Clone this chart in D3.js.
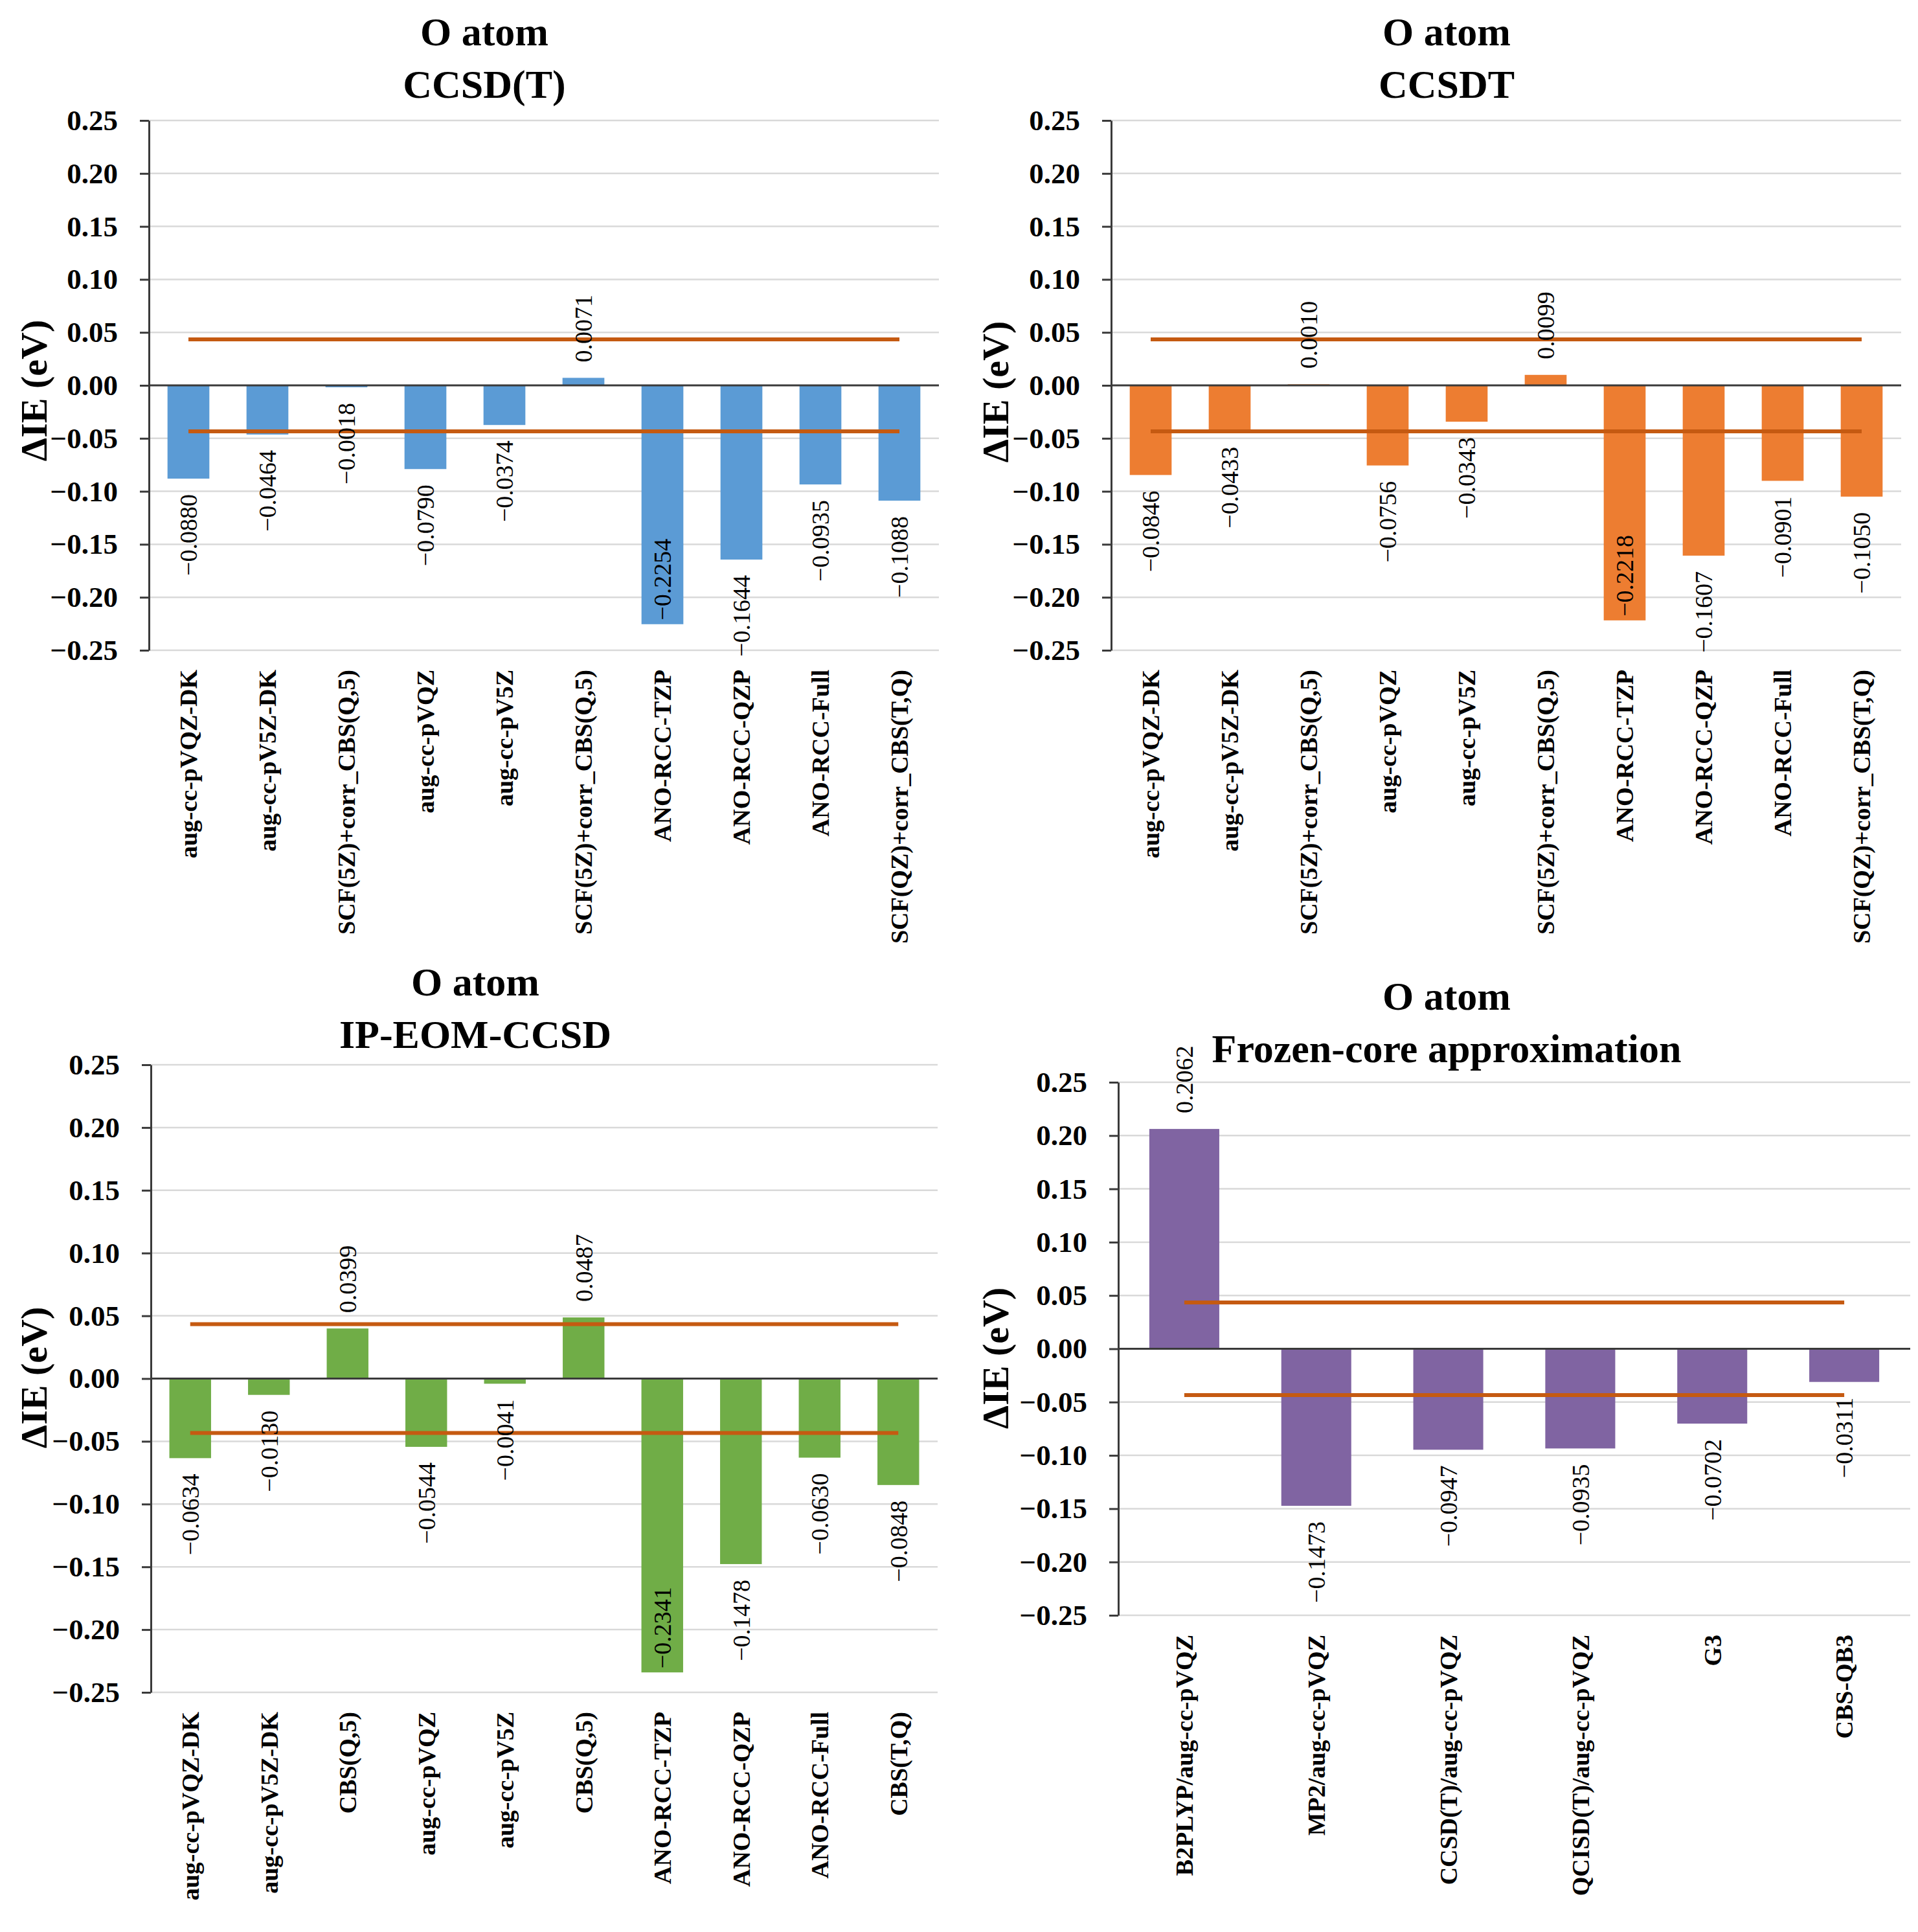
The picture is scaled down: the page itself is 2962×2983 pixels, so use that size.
<!DOCTYPE html>
<html>
<head>
<meta charset="utf-8">
<script src="https://cdn.jsdelivr.net/npm/d3@7"></script>
<style>
  body { margin: 0; background: #fff; }
  text { font-family: "Liberation Serif", "DejaVu Serif", serif; }
</style>
</head>
<body>
<div id="chart"></div>
<script>
// categories
let basisCC = ["aug-cc-pVQZ-DK", "aug-cc-pV5Z-DK", "SCF(5Z)+corr_CBS(Q,5)", "aug-cc-pVQZ", "aug-cc-pV5Z",
    "SCF(5Z)+corr_CBS(Q,5)", "ANO-RCC-TZP", "ANO-RCC-QZP", "ANO-RCC-Full", "SCF(QZ)+corr_CBS(T,Q)"];
let basisEOM = ["aug-cc-pVQZ-DK", "aug-cc-pV5Z-DK", "CBS(Q,5)", "aug-cc-pVQZ", "aug-cc-pV5Z",
    "CBS(Q,5)", "ANO-RCC-TZP", "ANO-RCC-QZP", "ANO-RCC-Full", "CBS(T,Q)"];
let methodsFC = ["B2PLYP/aug-cc-pVQZ", "MP2/aug-cc-pVQZ", "CCSD(T)/aug-cc-pVQZ", "QCISD(T)/aug-cc-pVQZ", "G3", "CBS-QB3"];

// series values (eV)
let ccsdT = [-0.0880, -0.0464, -0.0018, -0.0790, -0.0374, 0.0071, -0.2254, -0.1644, -0.0935, -0.1088];
let ccsdt = [-0.0846, -0.0433, 0.0010, -0.0756, -0.0343, 0.0099, -0.2218, -0.1607, -0.0901, -0.1050];
let ipEom = [-0.0634, -0.0130, 0.0399, -0.0544, -0.0041, 0.0487, -0.2341, -0.1478, -0.0630, -0.0848];
let frozenCore = [0.2062, -0.1473, -0.0947, -0.0935, -0.0702, -0.0311];

// chemical accuracy limits (+/- 1 kcal/mol)
let accuracyLimits = [0.0434, -0.0434];

// tick labels
let yTicks = [0.25, 0.20, 0.15, 0.10, 0.05, 0.00, -0.05, -0.10, -0.15, -0.20, -0.25];

let W = 2962, H = 2983;

let svg = d3.select("#chart").append("svg")
    .attr("width", W)
    .attr("height", H);

let panels = [
    {title: ["O atom", "CCSD(T)"], cats: basisCC, vals: ccsdT, color: "#5B9BD5",
     left: 230, right: 1450, top: 186, bottom: 1004, tx: 748, ty: [70, 151], lx: 52, ly: 603},
    {title: ["O atom", "CCSDT"], cats: basisCC, vals: ccsdt, color: "#ED7D31",
     left: 1716, right: 2936, top: 186, bottom: 1004, tx: 2234, ty: [70, 151], lx: 1537, ly: 605},
    {title: ["O atom", "IP-EOM-CCSD"], cats: basisEOM, vals: ipEom, color: "#70AD47",
     left: 233, right: 1448, top: 1644, bottom: 2613, tx: 734, ty: [1537, 1618], lx: 52, ly: 2127},
    {title: ["O atom", "Frozen-core approximation"], cats: methodsFC, vals: frozenCore, color: "#8064A2",
     left: 1727, right: 2950, top: 1671, bottom: 2494, tx: 2234, ty: [1559, 1640], lx: 1537, ly: 2097}
];

let fmtTick = d3.format(".2f");
let fmtVal = d3.format(".4f");

panels.forEach(p => {
    let g = svg.append("g");

    let x = d3.scaleBand()
        .domain(p.cats.map((c, i) => i))
        .range([p.left, p.right])
        .paddingInner(0.47)
        .paddingOuter(0.235);

    let y = d3.scaleLinear()
        .domain([-0.25, 0.25])
        .range([p.bottom, p.top]);

    // gridlines
    g.selectAll(".grid")
        .data(yTicks.filter(t => Math.abs(t) > 1e-9))
        .join("line")
        .attr("x1", p.left)
        .attr("x2", p.right)
        .attr("y1", d => y(d))
        .attr("y2", d => y(d))
        .attr("stroke", "#D9D9D9")
        .attr("stroke-width", 2.5);

    // bars
    g.selectAll(".bar")
        .data(p.vals)
        .join("rect")
        .attr("x", (d, i) => x(i))
        .attr("width", x.bandwidth())
        .attr("y", d => y(Math.max(0, d)))
        .attr("height", d => Math.abs(y(d) - y(0)))
        .attr("fill", p.color);

    // zero line (category axis)
    g.append("line")
        .attr("x1", p.left)
        .attr("x2", p.right)
        .attr("y1", y(0))
        .attr("y2", y(0))
        .attr("stroke", "#3a3a3a")
        .attr("stroke-width", 3);

    // accuracy lines
    let line = d3.line()
        .x(d => d.x)
        .y(d => d.y);
    accuracyLimits.forEach(v => {
        let pts = [0, p.cats.length - 1].map(i => ({x: x(i) + x.bandwidth() / 2, y: y(v)}));
        g.append("path")
            .attr("d", line(pts))
            .attr("fill", "none")
            .attr("stroke", "#C55A11")
            .attr("stroke-width", 6);
    });

    // y axis
    let yAxis = d3.axisLeft(y)
        .tickValues(yTicks)
        .tickFormat(fmtTick)
        .tickSizeInner(14)
        .tickSizeOuter(0)
        .tickPadding(34);
    let ax = g.append("g")
        .attr("transform", `translate(${p.left},0)`)
        .call(yAxis);
    ax.select(".domain").attr("stroke", "#3a3a3a").attr("stroke-width", 3);
    ax.selectAll(".tick line").attr("stroke", "#3a3a3a").attr("stroke-width", 3);
    ax.selectAll(".tick text")
        .attr("fill", "#000")
        .style("font-family", "'Liberation Serif', serif")
        .style("font-size", "45px")
        .style("font-weight", "bold");

    // data labels
    let gap = 24;
    g.selectAll(".vlabel")
        .data(p.vals)
        .join("text")
        .attr("class", "vlabel")
        .attr("dy", "0.35em")
        .style("font-size", "38px")
        .attr("fill", "#000")
        .text(d => fmtVal(d))
        .each(function(d, i) {
            let t = d3.select(this);
            let L = this.getComputedTextLength();
            let cx = x(i) + x.bandwidth() / 2;
            let ly, anchor;
            if (d >= 0) {
                ly = y(d) - gap;
                anchor = "start";
            } else if (y(d) + gap + L > p.bottom + 20) {
                ly = y(d) - 6;
                anchor = "start";
            } else {
                ly = y(d) + gap;
                anchor = "end";
            }
            t.attr("text-anchor", anchor)
             .attr("transform", `translate(${cx},${ly}) rotate(-90)`);
        });

    // category labels
    g.selectAll(".clabel")
        .data(p.cats)
        .join("text")
        .attr("class", "clabel")
        .attr("text-anchor", "end")
        .attr("dy", "0.35em")
        .attr("transform", (d, i) => `translate(${x(i) + x.bandwidth() / 2},${p.bottom + 30}) rotate(-90)`)
        .style("font-size", "38px")
        .style("font-weight", "bold")
        .text(d => d);

    // y label
    g.append("text")
        .attr("text-anchor", "middle")
        .attr("dy", "0.35em")
        .attr("transform", `translate(${p.lx},${p.ly}) rotate(-90)`)
        .style("font-size", "58px")
        .style("font-weight", "bold")
        .text("ΔIE (eV)");

    // title
    g.selectAll(".title")
        .data(p.title)
        .join("text")
        .attr("x", p.tx)
        .attr("y", (d, i) => p.ty[i])
        .attr("text-anchor", "middle")
        .style("font-size", "62px")
        .style("font-weight", "bold")
        .text(d => d);
});
</script>
</body>
</html>
